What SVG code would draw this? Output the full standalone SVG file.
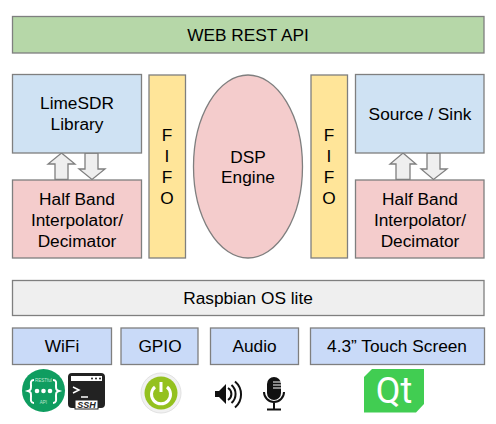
<svg xmlns="http://www.w3.org/2000/svg" width="496" height="424" viewBox="0 0 496 424">
<style>
.b{stroke:#7f7f7f;stroke-width:1.300}
.t{font-family:"Liberation Sans",Arial,sans-serif;font-size:17.300px;fill:#000;text-anchor:middle}
.blue{fill:#cfe2f3}.red{fill:#f4cccc}.yel{fill:#ffe599}.lav{fill:#c9daf8}
.ar{fill:#efefef;stroke:#7f7f7f;stroke-width:1.300}
.tiny{font-family:"Liberation Sans",Arial,sans-serif;font-size:4.500px;fill:#bfe6d2;text-anchor:middle}
</style>
<rect width="496" height="424" fill="#fff"/>
<g id="connectors">
<path class="ar" d="M61.500 153L75 164H68V179.500H55V164H48Z"/>
<path class="ar" d="M85 153H98V169H105L92 179.500L79 169H85Z"/>
<path class="ar" d="M403 153L416 164H410V179.500H396V164H390Z"/>
<path class="ar" d="M427 153H440V169H447L433.500 179.500L421 169H427Z"/>
</g>
<g id="api"><rect class="b" x="12.500" y="16.500" width="471.500" height="36.500" fill="#b6d7a8"/><text class="t" x="248" y="40.500">WEB REST API</text></g>
<g id="limesdr"><rect class="b blue" x="12.500" y="74.500" width="129" height="78.500"/><text class="t" x="77" y="109">LimeSDR</text><text class="t" x="77" y="130">Library</text></g>
<g id="hb-left"><rect class="b red" x="12.500" y="180" width="129" height="78"/><text class="t" x="77" y="204.500">Half Band</text><text class="t" x="77" y="225.500">Interpolator/</text><text class="t" x="77" y="246.500">Decimator</text></g>
<g id="fifo-left"><rect class="b yel" x="149" y="75" width="36.500" height="183"/><text class="t" x="167" y="141">F</text><text class="t" x="167" y="162">I</text><text class="t" x="167" y="183">F</text><text class="t" x="167" y="204">O</text></g>
<g id="dsp"><ellipse class="b" cx="248" cy="166.500" rx="54.500" ry="91.500" fill="#f4cccc"/><text class="t" x="248" y="162.500">DSP</text><text class="t" x="248" y="183">Engine</text></g>
<g id="fifo-right"><rect class="b yel" x="311" y="75" width="36.500" height="183"/><text class="t" x="329" y="141">F</text><text class="t" x="329" y="162">I</text><text class="t" x="329" y="183">F</text><text class="t" x="329" y="204">O</text></g>
<g id="source"><rect class="b blue" x="355.500" y="74.500" width="128.500" height="78.500"/><text class="t" x="420" y="119.500">Source / Sink</text></g>
<g id="hb-right"><rect class="b red" x="355.500" y="180" width="128.500" height="78"/><text class="t" x="420" y="204.500">Half Band</text><text class="t" x="420" y="225.500">Interpolator/</text><text class="t" x="420" y="246.500">Decimator</text></g>
<g id="os"><rect class="b" x="12.500" y="280.500" width="471.500" height="35" fill="#efefef"/><text class="t" x="248" y="303.500">Raspbian OS lite</text></g>
<g id="wifi"><rect class="b lav" x="12.500" y="328" width="99" height="36.500"/><text class="t" x="62" y="351.500">WiFi</text></g>
<g id="gpio"><rect class="b lav" x="121" y="328" width="77" height="36.500"/><text class="t" x="160" y="351.500">GPIO</text></g>
<g id="audio"><rect class="b lav" x="210.500" y="328" width="88" height="36.500"/><text class="t" x="254.500" y="351.500">Audio</text></g>
<g id="touch"><rect class="b lav" x="310.500" y="328" width="174" height="36.500"/><text class="t" x="397" y="351.500">4.3” Touch Screen</text></g>
<g id="icon-rest">
<circle cx="43.500" cy="390.500" r="21.500" fill="#0f9d60"/>
<path d="M34 380c-4 0-3 3-3 6s0 4-3 5c3 1 3 2 3 5s-1 7 3 7M53 380c4 0 3 3 3 6s0 4 3 5c-3 1-3 2-3 5s1 7-3 7" fill="none" stroke="#fff" stroke-width="2"/>
<circle cx="37" cy="391" r="2.300" fill="#fff"/><circle cx="43.500" cy="391" r="2.300" fill="#fff"/><circle cx="50" cy="391" r="2.300" fill="#fff"/>
<text class="tiny" x="43.500" y="382">RESTful</text><text class="tiny" x="43.500" y="404">API</text>
</g>
<g id="icon-ssh">
<rect x="69" y="374" width="35" height="33" rx="3" fill="#222" stroke="#222" stroke-width="2"/>
<rect x="71" y="376" width="31" height="5" fill="#fff"/>
<circle cx="92" cy="378.500" r="1" fill="#222"/><circle cx="96" cy="378.500" r="1" fill="#222"/><circle cx="100" cy="378.500" r="1" fill="#222"/>
<path d="M73 387l6 3-6 3" fill="none" stroke="#fff" stroke-width="1.500"/><path d="M81 397h7" stroke="#fff" stroke-width="1.500"/>
<rect x="75" y="400" width="23" height="9" fill="#fff" stroke="#222"/>
<text x="86.500" y="408" font-family="'Liberation Sans',sans-serif" font-size="9" font-weight="bold" font-style="italic" text-anchor="middle" fill="#222">SSH</text>
</g>
<g id="icon-power">
<circle cx="161" cy="393" r="20" fill="#f1f1f1" stroke="#e2e2e2"/>
<circle cx="161" cy="393" r="16.500" fill="#94c11f"/>
<path d="M155 387a9.500 9.500 0 1 0 12 0" fill="none" stroke="#fff" stroke-width="3"/>
<path d="M161 382v10" stroke="#fff" stroke-width="3"/>
</g>
<g id="icon-speaker" fill="none" stroke="#111">
<path d="M215 391h4l7-7v20l-7-7h-4Z" fill="#111" stroke="none"/>
<path d="M228 388a7 7 0 0 1 0 12M231.500 385a12 12 0 0 1 0 18M235 381.500a17 17 0 0 1 0 26" stroke-width="2"/>
</g>
<g id="icon-mic">
<rect x="267" y="377" width="14" height="23" rx="7" fill="#111"/>
<path d="M264 392a10 10 0 0 0 20 0" fill="none" stroke="#111" stroke-width="2"/>
<path d="M274 403v6M267 409.500h14" stroke="#111" stroke-width="2"/>
<path d="M273 382h8M273 385h8M273 388h8" stroke="#fff"/>
</g>
<g id="icon-qt">
<path d="M372 369H424V404L416 412.500H364V377Z" fill="#41cd52"/>
<text x="394" y="403" font-family="Roboto,'Liberation Sans',sans-serif" font-size="36" fill="#fff" text-anchor="middle">Qt</text>
</g>
</svg>
